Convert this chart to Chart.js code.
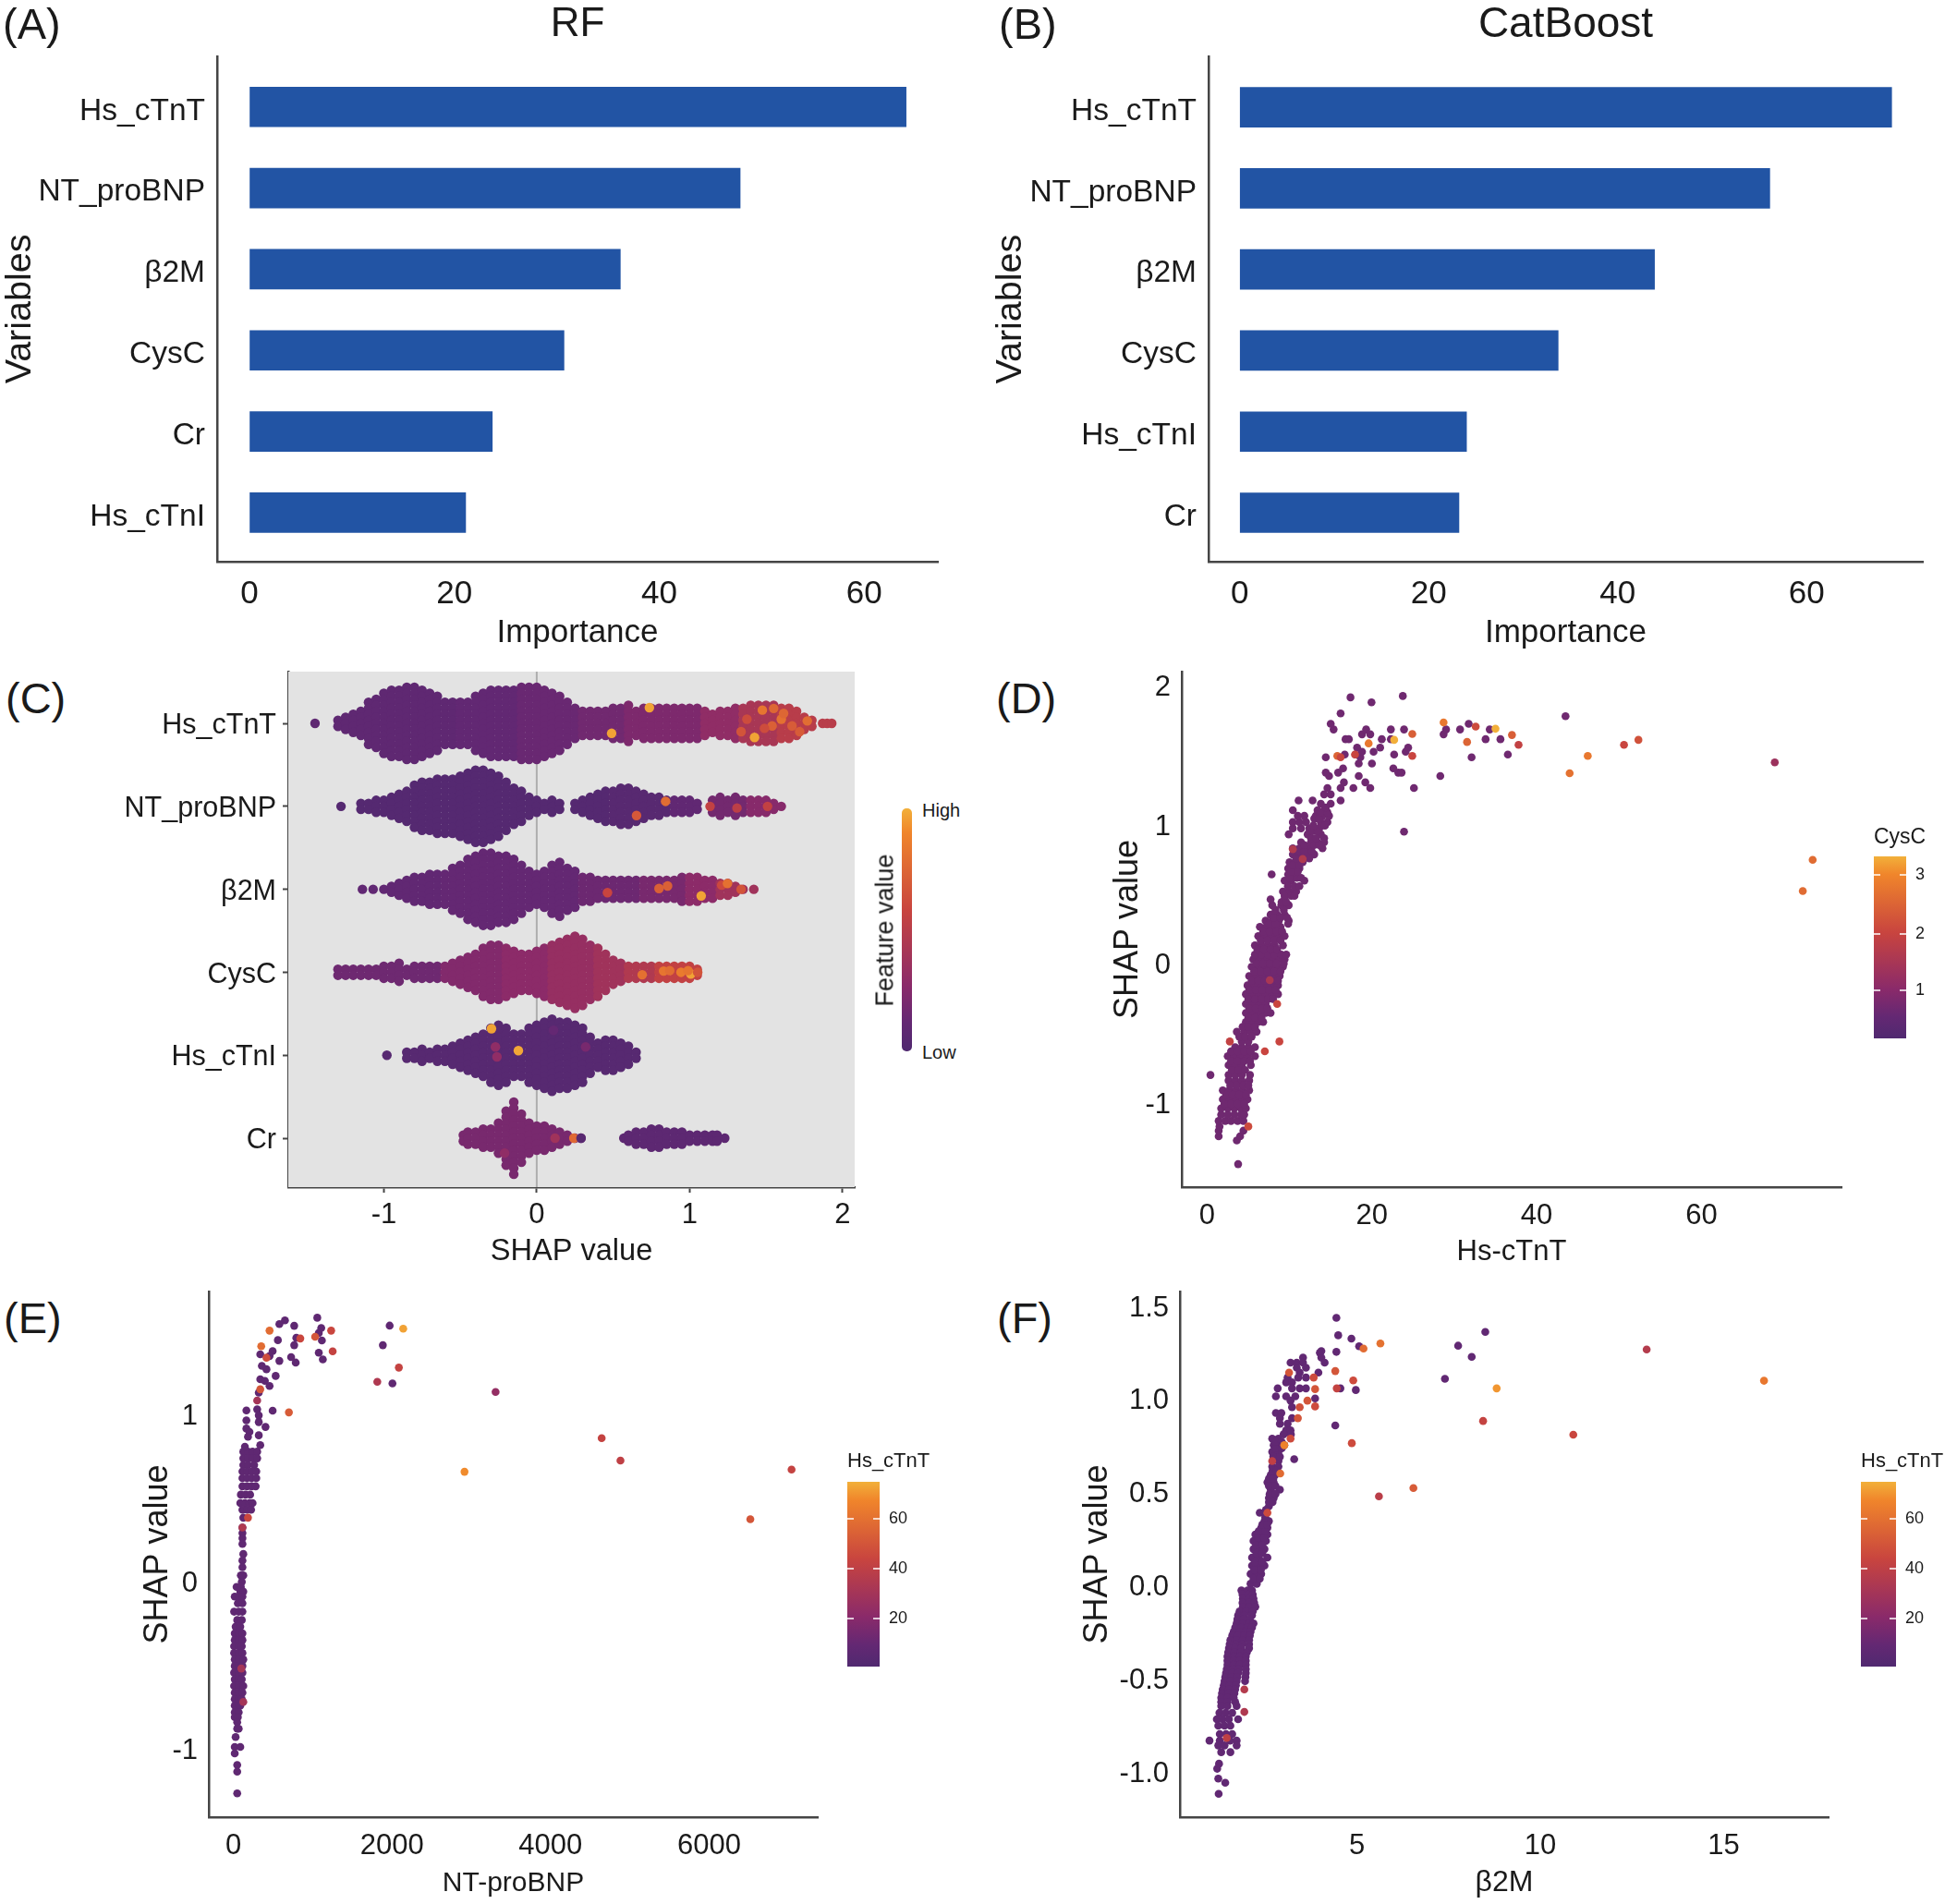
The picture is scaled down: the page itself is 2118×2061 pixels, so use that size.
<!DOCTYPE html>
<html><head><meta charset="utf-8">
<script src="https://cdn.jsdelivr.net/npm/chart.js@4"></script>
<style>
html,body{margin:0;padding:0;background:#fff;width:2118px;height:2061px;overflow:hidden}
#page{position:relative;width:2118px;height:2061px;font-family:"Liberation Sans",Arial,sans-serif;color:#1a1a1a}
canvas{position:absolute}
.t{position:absolute;white-space:nowrap;line-height:1;transform:translateY(-50%)}
.bar{position:absolute}
.tk{position:absolute;height:1.5px;background:rgba(255,255,255,.75)}
</style></head><body><div id="page"></div>
<script>
/* ---------- panels A, B ---------- */
const rfVariables=["Hs_cTnT","NT_proBNP","β2M","CysC","Cr","Hs_cTnI"];
const rfImportance=[64.1,47.9,36.2,30.7,23.7,21.1];
const catVariables=["Hs_cTnT","NT_proBNP","β2M","CysC","Hs_cTnI","Cr"];
const catImportance=[69,56.1,43.9,33.7,24,23.2];
const importanceTicks=[0,20,40,60];

/* ---------- panel C: SHAP bins, dots per bin, colour level by range ---------- */
const swarmVariables=["Hs_cTnT","NT_proBNP","β2M","CysC","Hs_cTnI","Cr"];
const shapTicks=[-1,0,1,2];
const tntShap=[-1.45,-1.30,-1.25,-1.20,-1.15,-1.10,-1.05,-1.00,-.95,-.90,-.85,-.80,-.75,-.70,-.65,-.60,-.55,-.50,-.45,-.40,-.35,-.30,-.25,-.20,-.15,-.10,-.05,0,.05,.10,.15,.20,.25,.30,.35,.40,.45,.50,.55,.60,.65,.70,.75,.80,.85,.90,.95,1.00,1.05,1.10,1.15,1.20,1.25,1.30,1.35,1.40,1.45,1.50,1.55,1.60,1.65,1.70,1.75,1.80,1.87,1.90,1.93];
const tntCount=[1,2,3,4,5,8,9,11,12,12,13,13,12,11,10,8,8,8,8,10,11,12,12,12,12,13,13,13,12,11,10,8,6,5,5,5,5,6,6,7,5,6,6,6,6,6,6,6,6,5,4,5,5,6,6,7,7,7,7,6,6,5,3,2,1,1,1];
const tntLevelFrom=[-2,-.5,-.1,.3,.6,1.1,1.35,1.6];
const tntLevel=[.09,.11,.14,.17,.22,.3,.42,.5];
const tntHighX=[.737,.49,1.476,1.55,1.60,1.54,1.77,1.72,1.425,1.337,1.615,1.67,1.375,1.49];
const tntHighY=[-.19,.12,-.16,-.18,-.05,.03,-.03,.10,.17,.10,-.12,.03,-.05,.06];
const tntHighV=[.97,.97,.82,.75,.8,.72,.78,.7,.97,.66,.75,.7,.62,.62];

const bnpShap=[-1.28,-1.15,-1.10,-1.05,-1.00,-.95,-.90,-.85,-.80,-.75,-.70,-.65,-.60,-.55,-.50,-.45,-.40,-.35,-.30,-.25,-.20,-.15,-.10,-.05,0,.05,.10,.15,.25,.30,.35,.40,.45,.50,.55,.60,.65,.70,.75,.80,.85,.90,.95,1.0,1.05,1.15,1.20,1.25,1.30,1.35,1.40,1.45,1.50,1.55,1.60];
const bnpCount=[1,2,2,3,3,4,5,6,8,9,9,10,10,10,11,12,13,13,12,11,9,7,6,4,3,2,3,2,2,3,4,5,6,6,7,7,6,5,4,4,3,3,3,3,2,3,4,3,4,3,3,3,3,2,1];
const bnpLevelFrom=[-2,.5,.9,1.15,1.4];
const bnpLevel=[.03,.05,.1,.18,.26];
const bnpHighX=[.843,.653,1.134,1.31,1.51];
const bnpHighY=[-.06,.11,0,.02,0];
const bnpHighV=[.78,.68,.55,.52,.55];

const b2mShap=[-1.14,-1.07,-1.0,-.95,-.90,-.85,-.80,-.75,-.70,-.65,-.60,-.55,-.50,-.45,-.40,-.35,-.30,-.25,-.20,-.15,-.10,-.05,0,.05,.10,.15,.20,.25,.30,.35,.40,.45,.50,.55,.60,.65,.70,.75,.80,.85,.90,.95,1.0,1.05,1.10,1.15,1.20,1.25,1.30,1.35,1.42];
const b2mCount=[1,1,1,2,3,4,5,5,6,6,6,8,9,11,12,13,13,12,12,11,9,7,6,7,9,10,8,7,5,5,4,4,4,4,4,4,4,4,4,4,4,5,5,5,4,4,3,3,2,1,1];
const b2mLevelFrom=[-2,-.6,.3,.7,1.0,1.2];
const b2mLevel=[.1,.12,.15,.2,.28,.38];
const b2mHighX=[1.076,1.21,1.248,1.337,.463,.8,.856];
const b2mHighY=[.08,-.05,-.07,0,.04,-.01,-.04];
const b2mHighV=[.97,.6,.8,.66,.58,.72,.72];

const cysShap=[-1.30,-1.25,-1.20,-1.15,-1.10,-1.05,-1.0,-.95,-.90,-.85,-.80,-.75,-.70,-.65,-.60,-.55,-.50,-.45,-.40,-.35,-.30,-.25,-.20,-.15,-.10,-.05,0,.05,.10,.15,.20,.25,.30,.35,.40,.45,.50,.55,.60,.65,.70,.75,.80,.85,.90,.95,1.0,1.05];
const cysCount=[2,2,2,2,2,2,3,3,4,2,3,3,3,3,3,4,5,6,7,9,10,10,9,8,7,7,8,9,10,11,12,13,12,10,9,7,5,4,3,3,3,3,3,3,3,3,3,2];
const cysLevelFrom=[-2,-.6,-.2,.1,.4,.6,.8];
const cysLevel=[.16,.24,.28,.33,.38,.46,.55];
const cysHighX=[.69,.83,.944,1.008,1.053,.87,.99];
const cysHighY=[.03,-.015,0,.02,0,-.02,-.02];
const cysHighV=[.8,.82,.85,.97,.66,.78,.82];

const tniShap=[-.98,-.85,-.80,-.75,-.70,-.65,-.60,-.55,-.50,-.45,-.40,-.35,-.30,-.25,-.20,-.15,-.10,-.05,0,.05,.10,.15,.20,.25,.30,.35,.40,.45,.50,.55,.60,.65];
const tniCount=[1,2,2,3,2,3,3,4,5,6,7,8,10,11,10,8,8,10,11,12,13,12,12,11,10,7,5,6,6,5,4,2];
const tniLevelFrom=[-2];
const tniLevel=[.04];
const tniHighX=[-.296,-.12,-.27,-.26,.32,.11];
const tniHighY=[-.32,-.055,-.10,.02,-.10,-.3];
const tniHighV=[.97,.98,.3,.3,.2,.12];

const crShap=[-.48,-.45,-.40,-.35,-.30,-.25,-.20,-.15,-.10,-.05,0,.05,.10,.15,.20,.25,.29,.57,.60,.65,.70,.75,.80,.85,.90,.95,1.0,1.05,1.10,1.15,1.18,1.23];
const crCount=[2,3,3,4,4,6,10,13,9,6,5,5,4,3,2,1,1,1,2,3,3,4,4,3,3,3,2,2,2,2,2,1];
const crLevelFrom=[-2,.4];
const crLevel=[.2,.08];
const crHighX=[.243,.12,-.21,.29];
const crHighY=[0,0,.18,0];
const crHighV=[.76,.38,.3,.05];

/* ---------- panel D: Hs-cTnT vs SHAP (rows of SHAP value with the x values read on that row) ---------- */
const dTicksX=[0,20,40,60];
const dTicksY=[-1,0,1,2];
const dRowShap=[-1.44,-1.27,-1.24,-1.2,-1.17,-1.13,-1.085,-1.04,-.975,-.91,-.84,-.80,-.73,-.665,-.60,-.56,-.49,-.42,-.355,-.29,-.22,-.157,-.09,-.024,.03,.064,.13,.197,.263,.307,.35,.418,.46,.517,.595,.64,.683,.727,.783,.827,.87,.927,.97,1.015,1.06,1.10,1.147,1.17,1.214,1.26,1.30,1.346,1.37,1.40,1.435,1.48,1.50,1.52,1.55,1.61,1.645,1.68,1.72,1.795,1.875,1.91,1.92];
const dRowX=[[3.76],[3.6],[1.4,4],[1.4,4.4],[1.5],[1.4,2.2,2.9,3.7,4.4],[1.7,2.5,3.3,4.1,4.5],[1.7,2.5,3.3,4.1,4.7],[1.9,2.7,3.5,4.3,4.9],[1.9,2.7,3.5,4.3,5.1],[2.6,3.4,4.2,5.1],[.4,2.6,3.4,4.2,5.2],[2.6,3.4,4.2,5.3],[2.5,3.3,4.1,4.9,5.8],[3.4,4.2,5,5.8],[4.2,5],[3.6,4.5,5.3,6],[4.7,5.5,6.2,6.8],[4.7,5.5,6.3,7.1,7.7],[4.7,5.5,6.3,7.1],[4.7,5.5,6.3,7.1,7.9,8.6],[4.9,5.7,6.5,7.3,8.1,8.6],[5.1,5.9,6.7,7.5,8.3,8.8],[5.4,6.2,7,7.8,8.6,9.2],[5.6,6.4,7.2,8,8.8,9.4],[5.8,6.6,7.4,8.2,9,9.6],[5.8,6.6,7.4,8.2,9.2],[6.2,7,7.8,8.6,9.4],[6.4,7.2,8,8.9],[7.1,7.9,8.7,9.9],[7.7,8.5,9.4],[7.9,9,9.9],[7.7,9.4],[9.2,10,10.8],[9.4,10.2,11.8],[7.83,9.83,10.6],[9.83,10.6,11.2],[10,10.8,11.6],[10.4,11.2,12,13],[10.4,11.2,12.4,14],[11.4,12.6,13.4,14.2],[9.9,12.2,13.8],[10.4,11.4,12.4,13.6],[10.4,11.2,12,13.8,14.6],[11,11.8,13.2,14,14.8],[10.4,13.4,14.2],[13.8,15],[11.1,12.8,16.2],[14.2,15],[14.6,16.2,17.75,19.8,25.1],[16.6,19.2],[14.8,18.4,28.3],[14.4,15.9,23.2,23.6],[16.5,22.6],[18.4,20],[14.4,18.6,32.1],[16.7,18,22.7,36.5],[20.2,18.8,24.1],[21,18.2,24.4],[16.8,17.2,21.2,22.3,33.8,35.6],[18.8,19.8,28.7],[15.35,19.3,22.3,23.9,30.7,34.3,29],[15,31.75],[16.2],[19.95],[17.4],[23.75]];
const dFillShap=[-1.008,-.943,-.875,-.765,-.70,-.63,-.525,-.455,-.39,-.32,-.255,-.19,-.125,-.057,0,.1,.165,.23,.285,.33,.385,.44,.485,.555,.615,.66,.705,.755,.805,.85,.90,.95,.99,1.04,1.085,1.12];
const dFillX=[[2.1,2.9,3.7,4.5],[2.3,3.1,3.9,4.7],[2.8,3.6,4.4,5],[3,3.8,4.6],[2.9,3.7,4.5,5.2],[2.9,3.7,4.5,5.3],[3.9,4.6,5.4],[4.3,5,5.8],[5,5.8,6.6],[5.1,5.9,6.7,7.3],[5,5.8,6.6,7.4,8],[5.1,5.9,6.7,7.5,8.3],[5.4,6.2,7,7.8,8.6],[5.7,6.5,7.3,8.1,8.9],[6,6.8,7.6,8.4,9.3],[6.1,6.9,7.7,8.5],[6.5,7.3,8.1,8.9],[6.8,7.6,8.4,9.1],[7.5,8.3,9.83],[8.1,8.9,9.7],[8.3,9.3],[9.03,9.6],[9.4,10.2,10.6],[9.8,10.6,11.2],[10,10.9,11.4],[10.2,11],[10.4,11.2],[10.8,11.6,12.4],[11,11.8,12.7],[11.8,13,13.6],[12.6,13.2,14.2],[12.8,13.4],[12.9,13.9,14.3],[13,13.6],[13.8,14.6],[14.4]];
const dOtherX=[23.9,43.5];
const dOtherY=[.946,1.775];
const dExtraX=[24.9,24.9,22.7,19.6,28.7,32.6,31.55,35,37,37.8,46.2,44,50.6,52.35,17.95,15.8,16.2,68.9,73.5,72.3,5,7,2.75,8.77,8.5,7.6,10.4,11.6];
const dExtraY=[1.647,1.49,1.605,1.58,1.73,1.70,1.59,1.685,1.64,1.57,1.49,1.366,1.57,1.605,1.50,1.49,1.48,1.444,.744,.52,-1.17,-.63,-.56,-.56,-.29,-.12,.82,.75];
const dExtraV=[2.4,2,3.3,2.8,2.8,2.1,2.5,3.3,2.4,1.9,2.8,2.7,2,2.2,2,2.5,2,1.3,2.6,2.6,2.1,2,1.9,2,2,1.5,1.6,1.6];

/* ---------- panel E: NT-proBNP vs SHAP ---------- */
const eTicksX=[0,2000,4000,6000];
const eTicksY=[-1,0,1];
const eRowShap=[.777,.737,.698,.659,.619,.57,.52,.47,.43,.382,.323,.29,.26,.225,.165,.126,.086,.037,-.002,-.032,-.06,-.09,-.13,-.18,-.23,-.27,-.31,-.35,-.387,-.427,-.466,-.505,-.545,-.585,-.624,-.664,-.703,-.742,-.782,-.811,-.841,-.88,-.93,-.989,-1.028,-1.097,-1.137,-1.267];
const eRowX=[[125,184,242,300],[125,184,242,300],[125,184,262],[114,172,230,289],[114,172,230,289],[114,172,230,281],[94,153,211],[87,145,203,242],[114,172,223],[125],[114],[114],[114],[114],[125],[114],[114],[94,125],[106],[40,94],[87,125],[17,67,114],[56,114],[9,67,114],[48,106],[28,87],[17,67,114],[17,67,114],[9,67,106],[9,67,114],[17,67,125],[17,67,114],[9,67,114],[17,67,106],[9,67,125],[17,67,114],[17,67,106],[17,67,87],[17,67],[17,56],[48],[48,67],[28],[17,87],[17],[48],[48],[48]];
const eUpperX=[1058,650,580,767,1108,1077,794,561,1116,767,1077,495,456,339,728,580,1128,786,1971,1885,2006,495,359,417,533,339,397,456,320,300,164,320,164,320,405,164,203,320,184,339,145];
const eUpperY=[1.578,1.562,1.54,1.53,1.517,1.487,1.458,1.444,1.442,1.414,1.369,1.379,1.349,1.359,1.343,1.32,1.329,1.31,1.531,1.414,1.185,1.022,1.29,1.27,1.23,1.21,1.2,1.17,1.13,1.03,1.024,.994,.964,.954,.925,.915,.895,.875,.866,.816,.807];
const eExtraX=[1233,456,844,1031,351,1252,417,2142,2087,1815,2915,700,3307,4645,4882,6520,7040,339,300,184,114,100,125];
const eExtraY=[1.501,1.501,1.454,1.464,1.408,1.377,1.339,1.513,1.28,1.195,.657,1.012,1.134,.858,.724,.373,.67,1.15,1.083,.382,.323,-.52,-.72];
const eExtraV=[44,58,44,50,58,42,46,72,42,34,68,52,24,42,40,50,42,50,30,44,34,30,30];

/* ---------- panel F: β2M vs SHAP ---------- */
const fTicksX=[5,10,15];
const fTicksY=[-1,-.5,0,.5,1,1.5];
const fRowShap=[1.248,1.222,1.195,1.168,1.142,1.115,1.089,1.057,1.014,.991,.956,.925,.897,.867,.832,.787,.752,.716,.667,.637,.592,.553,.513,.468,.424,.389,.344,.309,.273,.238,.194,.149,.105,.061,.008,-.028,-.05,-.072,-.094,-.116,-.14,-.161,-.183,-.205,-.227,-.249,-.27,-.294,-.316,-.338,-.36,-.382,-.405,-.427,-.45,-.471,-.493,-.515,-.537,-.559,-.58,-.604,-.626,-.648,-.685,-.719,-.754,-.799,-.834,-.86,-.896,-.958,-.985,-1.038,-1.06,-1.12];
const fRowX=[[3.99],[3.53,4.03],[3.19,3.36,3.53,4.12],[3.36,3.61],[3.44,3.95],[3.11,3.4,3.61],[3.07,3.23],[2.84,3.23,3.44,3.61],[2.79,3.07,3.32],[3.19],[3.23],[2.79,2.94],[2.9,3.23],[2.9,3.11],[3.07,3.19],[2.69,2.86],[2.73,2.9,3.02],[2.69,2.86],[2.86],[2.69,2.86],[2.65,2.77],[2.56,2.73],[2.65,2.9],[2.6,2.73],[2.6],[2.35],[2.48,2.6],[2.39,2.56],[2.23,2.39,2.56],[2.18,2.35,2.52],[2.18,2.35,2.48],[2.14,2.31,2.56],[2.14,2.31,2.48],[2.1,2.27,2.39],[2.1,2.27],[1.85,2.02,2.14],[1.88,2.04,2.16],[1.89,2.06,2.18],[1.88,2.05,2.2],[1.89,2.06,2.23],[1.8,1.98,2.16],[1.76,1.93,2.14],[1.74,1.9,2.08],[1.72,1.89,2.06,2.18],[1.68,1.85,2.02,2.14],[1.64,1.81,1.97,2.1],[1.6,1.76,1.93,2.08],[1.55,1.72,1.89,2.06],[1.53,1.7,1.87,2.06],[1.51,1.68,1.85,2.06],[1.49,1.66,1.83,2],[1.47,1.64,1.81,1.97],[1.47,1.64,1.81,1.97],[1.47,1.64,1.81,1.97],[1.45,1.62,1.78,1.97],[1.43,1.6,1.76,1.97],[1.41,1.58,1.74,1.96],[1.39,1.55,1.72,1.95],[1.37,1.53,1.7],[1.34,1.51,1.68],[1.32,1.49,1.66],[1.3,1.47,1.64],[1.3,1.47,1.68],[1.3,1.47,1.72],[1.25,1.42,1.6],[1.18,1.34,1.51,1.76],[1.22,1.39,1.55],[1.26,1.43,1.6],[.98,1.26,1.54,1.72],[1.22,1.39,1.72],[1.3,1.55],[1.24],[1.19],[1.22],[1.41],[1.23]];
const fFillShap=[.035,.083,.127,.171,.216,.255,.29,.326,.366,.405,.446,.49,.533,.572,.615,.69,.735,.77,.81];
const fFillX=[[2.18,2.35],[2.2,2.38],[2.22,2.42],[2.26,2.42],[2.25,2.42],[2.3,2.47],[2.32,2.5],[2.42,2.55],[2.5],[2.52],[2.6,2.7],[2.62,2.78],[2.6,2.78],[2.6,2.72],[2.7,2.8],[2.72,2.9],[2.78,2.95],[2.78,2.95],[3,3.2]];
const fUpperX=[4.44,4.49,4.85,5.06,4.44,4.03,4.55,4.97,3.86,7.4,4.41,3.29,7.76,8.13,8.5];
const fUpperY=[1.436,1.342,1.324,1.283,1.253,1.257,1.057,1.048,1.003,1.108,.858,.677,1.286,1.226,1.36];
const fExtraX=[5.18,5.64,4.41,4.9,4.45,3.86,3.86,4.86,5.6,6.54,2.91,8.44,8.81,10.9,12.9,16.1,3.15,3.82,3.65,3.44,3.39,3.19,3.02,2.69,2.56,1.93,1.93,1.45];
const fExtraY=[1.271,1.298,1.15,1.1,1.057,1.053,.96,.763,.477,.522,.6,.882,1.057,.808,1.266,1.098,1.142,1.115,.991,.956,.897,.787,.752,.667,.389,-.559,-.68,-.82];
const fExtraV=[58,60,50,46,42,50,46,46,38,52,58,42,70,44,36,62,50,46,50,48,50,46,66,40,46,36,34,40];

/* ---------- shared helpers (drawing only) ---------- */
Chart.defaults.font.family='"Liberation Sans", Arial, sans-serif';
Chart.defaults.color='#1a1a1a';
Chart.defaults.animation=false;
const stops=[[0,[80,41,112]],[.12,[100,40,115]],[.27,[138,42,106]],[.58,[200,68,63]],[.9,[240,133,43]],[1,[242,176,58]]];
function rgbAt(l){
  l=Math.max(0,Math.min(1,l));
  for(let i=1;i<stops.length;i++){
    if(l<=stops[i][0]){
      const a=stops[i-1],b=stops[i],f=(l-a[0])/(b[0]-a[0]);
      const c=a[1].map((v,k)=>Math.round(v+(b[1][k]-v)*f));
      return `rgb(${c[0]},${c[1]},${c[2]})`;
    }
  }
  return 'rgb(242,176,58)';
}
const page=document.getElementById('page');
function text(s,x,y,size,opt={}){
  const d=document.createElement('div');d.className='t';d.textContent=s;
  d.style.left=x+'px';d.style.top=y+'px';d.style.fontSize=size+'px';
  if(opt.rot){d.style.transform='translate(-50%,-50%) rotate(-90deg)';}
  page.appendChild(d);return d;
}
function make(box,plot,cfg,xT,yT,tickLen,xPad,yPad,fonts,xLabels,yLabels){
  const c=document.createElement('canvas');
  c.width=box.r-box.l;c.height=box.b-box.t;
  c.style.left=box.l+'px';c.style.top=box.t+'px';
  page.appendChild(c);
  const lineCol='#454545';
  const axis=(ticks,labels,pad,font,title,w,isY,extra,off)=>Object.assign({
    type:'linear',offset:false,
    border:{display:true,color:lineCol,width:2.5},
    grid:{display:true,drawOnChartArea:false,drawTicks:tickLen>0,tickLength:tickLen,tickColor:lineCol,tickWidth:2,offset:false},
    ticks:{autoSkip:false,maxRotation:0,minRotation:0,padding:pad,labelOffset:off,font:{size:font},color:'#1a1a1a',
      callback:(v)=>{const i=ticks.indexOf(v);return labels?labels[i]:String(v);}},
    afterBuildTicks:s=>{s.ticks=ticks.map(v=>({value:v}));},
    afterFit:s=>{if(isY)s.width=w;else s.height=w;},
    title:{display:!!title,text:title?title.text:'',font:{size:title?title.size:10},padding:{top:0,bottom:0},color:'#1a1a1a'}
  },extra);
  const xa=axis(xT.ticks,xLabels,xPad,fonts.x,fonts.xTitle,box.b-plot.b,false,{min:xT.min,max:xT.max},0);
  const ya=axis(yT.ticks,yLabels,yPad,fonts.y,fonts.yTitle,plot.l-box.l,true,{min:yT.min,max:yT.max,reverse:!!yT.reverse},fonts.yOff||0);
  cfg.options=Object.assign({
    responsive:false,maintainAspectRatio:false,devicePixelRatio:1,
    layout:{padding:{top:fonts.title?0:plot.t-box.t,right:box.r-plot.r,left:0,bottom:0}},
    plugins:{legend:{display:false},tooltip:{enabled:false},
      title:fonts.title?{display:true,text:fonts.title.text,fullSize:false,font:{size:fonts.title.size,weight:'normal'},color:'#1a1a1a',padding:{top:0,bottom:plot.t-Math.round(fonts.title.size*1.2)}}:{display:false}},
    events:[],
    scales:{x:xa,y:ya}
  },cfg.options||{});
  return new Chart(c,cfg);
}
function zip(xs,ys){return xs.map((x,i)=>({x,y:ys[i]}));}
function scatterSet(pts,color,r,order){return {type:'scatter',data:pts,pointRadius:r,pointBorderWidth:0,pointBackgroundColor:color,showLine:false,order};}
function rowsToPts(shap,rows){const p=[];rows.forEach((xs,i)=>xs.forEach(x=>p.push({x,y:shap[i]})));return p;}

/* ---------- bars ---------- */
function barPanel(box,plot,names,vals,xmin,xmax,title,ySize,xSize){
  make(box,plot,{type:'bar',data:{datasets:[{data:vals.map((v,i)=>({x:v,y:i})),backgroundColor:'#2254A4',barThickness:43}]},options:{indexAxis:'y'}},
   {ticks:importanceTicks,min:xmin,max:xmax},{ticks:[0,1,2,3,4,5],min:-.626,max:5.604,reverse:true},0,14,13,
   {x:xSize,y:ySize,yOff:4.5,xTitle:{text:'Importance',size:35},yTitle:{text:'Variables',size:39.5},title:{text:title,size:title==='RF'?44:46}},
   null,names);
}
barPanel({l:-2,t:0,r:1060,b:706},{l:235,t:61,r:1015,b:608},rfVariables,rfImportance,-3.16,67.2,'RF',33.5,35);
barPanel({l:1070,t:0,r:2118,b:706},{l:1308,t:61,r:2081,b:608},catVariables,catImportance,-3.3,72.3,'CatBoost',33.5,35);

/* ---------- swarm ---------- */
const swarmStep=.0725;
function levelAt(x,from,lev){let l=lev[0];from.forEach((f,i)=>{if(x>=f)l=lev[i];});return l;}
function swarm(row,shap,count,from,lev,hx,hy,hv){
  const pts=[],cols=[];
  shap.forEach((x,i)=>{const c=count[i];for(let j=0;j<c;j++){pts.push({x,y:row+(j-(c-1)/2)*swarmStep});cols.push(rgbAt(levelAt(x,from,lev)));}});
  hx.forEach((x,i)=>{pts.push({x,y:row+hy[i]});cols.push(rgbAt(hv[i]));});
  return scatterSet(pts,cols,5.2,1);
}
make({l:100,t:690,r:965,b:1375},{l:312,t:727,r:925,b:1285},{type:'scatter',data:{datasets:[
  swarm(0,tntShap,tntCount,tntLevelFrom,tntLevel,tntHighX,tntHighY,tntHighV),
  swarm(1,bnpShap,bnpCount,bnpLevelFrom,bnpLevel,bnpHighX,bnpHighY,bnpHighV),
  swarm(2,b2mShap,b2mCount,b2mLevelFrom,b2mLevel,b2mHighX,b2mHighY,b2mHighV),
  swarm(3,cysShap,cysCount,cysLevelFrom,cysLevel,cysHighX,cysHighY,cysHighV),
  swarm(4,tniShap,tniCount,tniLevelFrom,tniLevel,tniHighX,tniHighY,tniHighV),
  swarm(5,crShap,crCount,crLevelFrom,crLevel,crHighX,crHighY,crHighV),
  {type:'scatter',data:[{x:0,y:-.624},{x:0,y:5.59}],showLine:true,borderColor:'#adadad',borderWidth:2,pointRadius:0,order:5}
 ]},plugins:[{id:'panelBg',beforeDatasetsDraw(ch){const a=ch.chartArea,g=ch.ctx;g.save();g.fillStyle='#E3E3E3';g.fillRect(a.left,a.top,a.right-a.left,a.bottom-a.top);g.restore();}}]},
 {ticks:shapTicks,min:-1.625,max:2.08},{ticks:[0,1,2,3,4,5],min:-.624,max:5.59,reverse:true},6,6,7,
 {x:31,y:30.5,yOff:2.7,xTitle:{text:'SHAP value',size:32.6},yTitle:null},null,swarmVariables);

/* ---------- scatter panels ---------- */
function scatterPanel(box,plot,xT,yT,body,bodyCol,extraPts,extraCols,xTitle,yLabels,r,yOff){
  make(box,plot,{type:'scatter',data:{datasets:[scatterSet(body,bodyCol,r,2),scatterSet(extraPts,extraCols,r,1)]}},
   xT,yT,0,13,12,{x:31,y:31,yOff,xTitle:xTitle,yTitle:{text:'SHAP value',size:36}},null,yLabels);
}
const cysLevelOf=v=>(v-.16)/3.15, tntLevelOf=v=>(v-.4)/74;
scatterPanel({l:1199,t:690,r:2033,b:1374},{l:1279,t:727,r:1993,b:1285},
 {ticks:dTicksX,min:-3.08,max:77},{ticks:dTicksY,min:-1.605,max:2.095},
 rowsToPts(dRowShap,dRowX).concat(rowsToPts(dFillShap,dFillX),zip(dOtherX,dOtherY)),rgbAt(cysLevelOf(.68)),
 zip(dExtraX,dExtraY),dExtraV.map(v=>rgbAt(cysLevelOf(v))),{text:'Hs-cTnT',size:31},null,4.3,3);
scatterPanel({l:149,t:1358,r:925,b:2057},{l:226,t:1398,r:885,b:1967},
 {ticks:eTicksX,min:-310,max:7370},{ticks:eTicksY,min:-1.409,max:1.735},
 rowsToPts(eRowShap,eRowX).concat(zip(eUpperX,eUpperY)),rgbAt(tntLevelOf(7)),
 zip(eExtraX,eExtraY),eExtraV.map(v=>rgbAt(tntLevelOf(v))),{text:'NT-proBNP',size:30},null,4.3,2.5);
scatterPanel({l:1166,t:1358,r:2018,b:2057},{l:1277,t:1398,r:1979,b:1967},
 {ticks:fTicksX,min:.174,max:17.86},{ticks:fTicksY,min:-1.245,max:1.577},
 rowsToPts(fRowShap,fRowX).concat(rowsToPts(fFillShap,fFillX),zip(fUpperX,fUpperY)),rgbAt(tntLevelOf(8)),
 zip(fExtraX,fExtraY),fExtraV.map(v=>rgbAt(tntLevelOf(v))),{text:'β2M',size:32},fTicksY.map(v=>v.toFixed(1)),4.3,2.5);

/* ---------- colour bars and labels ---------- */
const gradCss='linear-gradient(to top,'+stops.map(s=>`rgb(${s[1].join(',')}) ${s[0]*100}%`).join(',')+')';
function colorBar(x,w,t,b,title,tx,ty,ticks,size){
  const d=document.createElement('div');d.className='bar';
  d.style.cssText=`left:${x}px;top:${t}px;width:${w}px;height:${b-t}px;background:${gradCss}`;
  page.appendChild(d);
  text(title,tx,ty,size);
  ticks.forEach(([lab,y])=>{
    for(const k of [x,x+w-7]){const m=document.createElement('div');m.className='tk';m.style.cssText=`left:${k}px;top:${y}px;width:7px`;page.appendChild(m);}
    text(lab,x+w+10,y,18);
  });
}
colorBar(2028,35,927,1124,'CysC',2028,905,[['3',946],['2',1010],['1',1071]],23);
colorBar(917,35,1604,1804,'Hs_cTnT',917,1581,[['60',1643],['40',1697],['20',1751]],22);
colorBar(2014,38,1604,1804,'Hs_cTnT',2014,1581,[['60',1643],['40',1697],['20',1751]],22);
const fb=document.createElement('div');fb.className='bar';
fb.style.cssText=`left:976px;top:875px;width:11px;height:263px;border-radius:5px;background:${gradCss}`;page.appendChild(fb);
text('High',998,877,20);text('Low',998,1139,20);
text('Feature value',958,1007,27,{rot:true});
[['(A)',3,25],['(B)',1081,25],['(C)',6,755],['(D)',1078,755],['(E)',4,1426],['(F)',1079,1426]].forEach(a=>text(a[0],a[1],a[2],47));
</script></body></html>
